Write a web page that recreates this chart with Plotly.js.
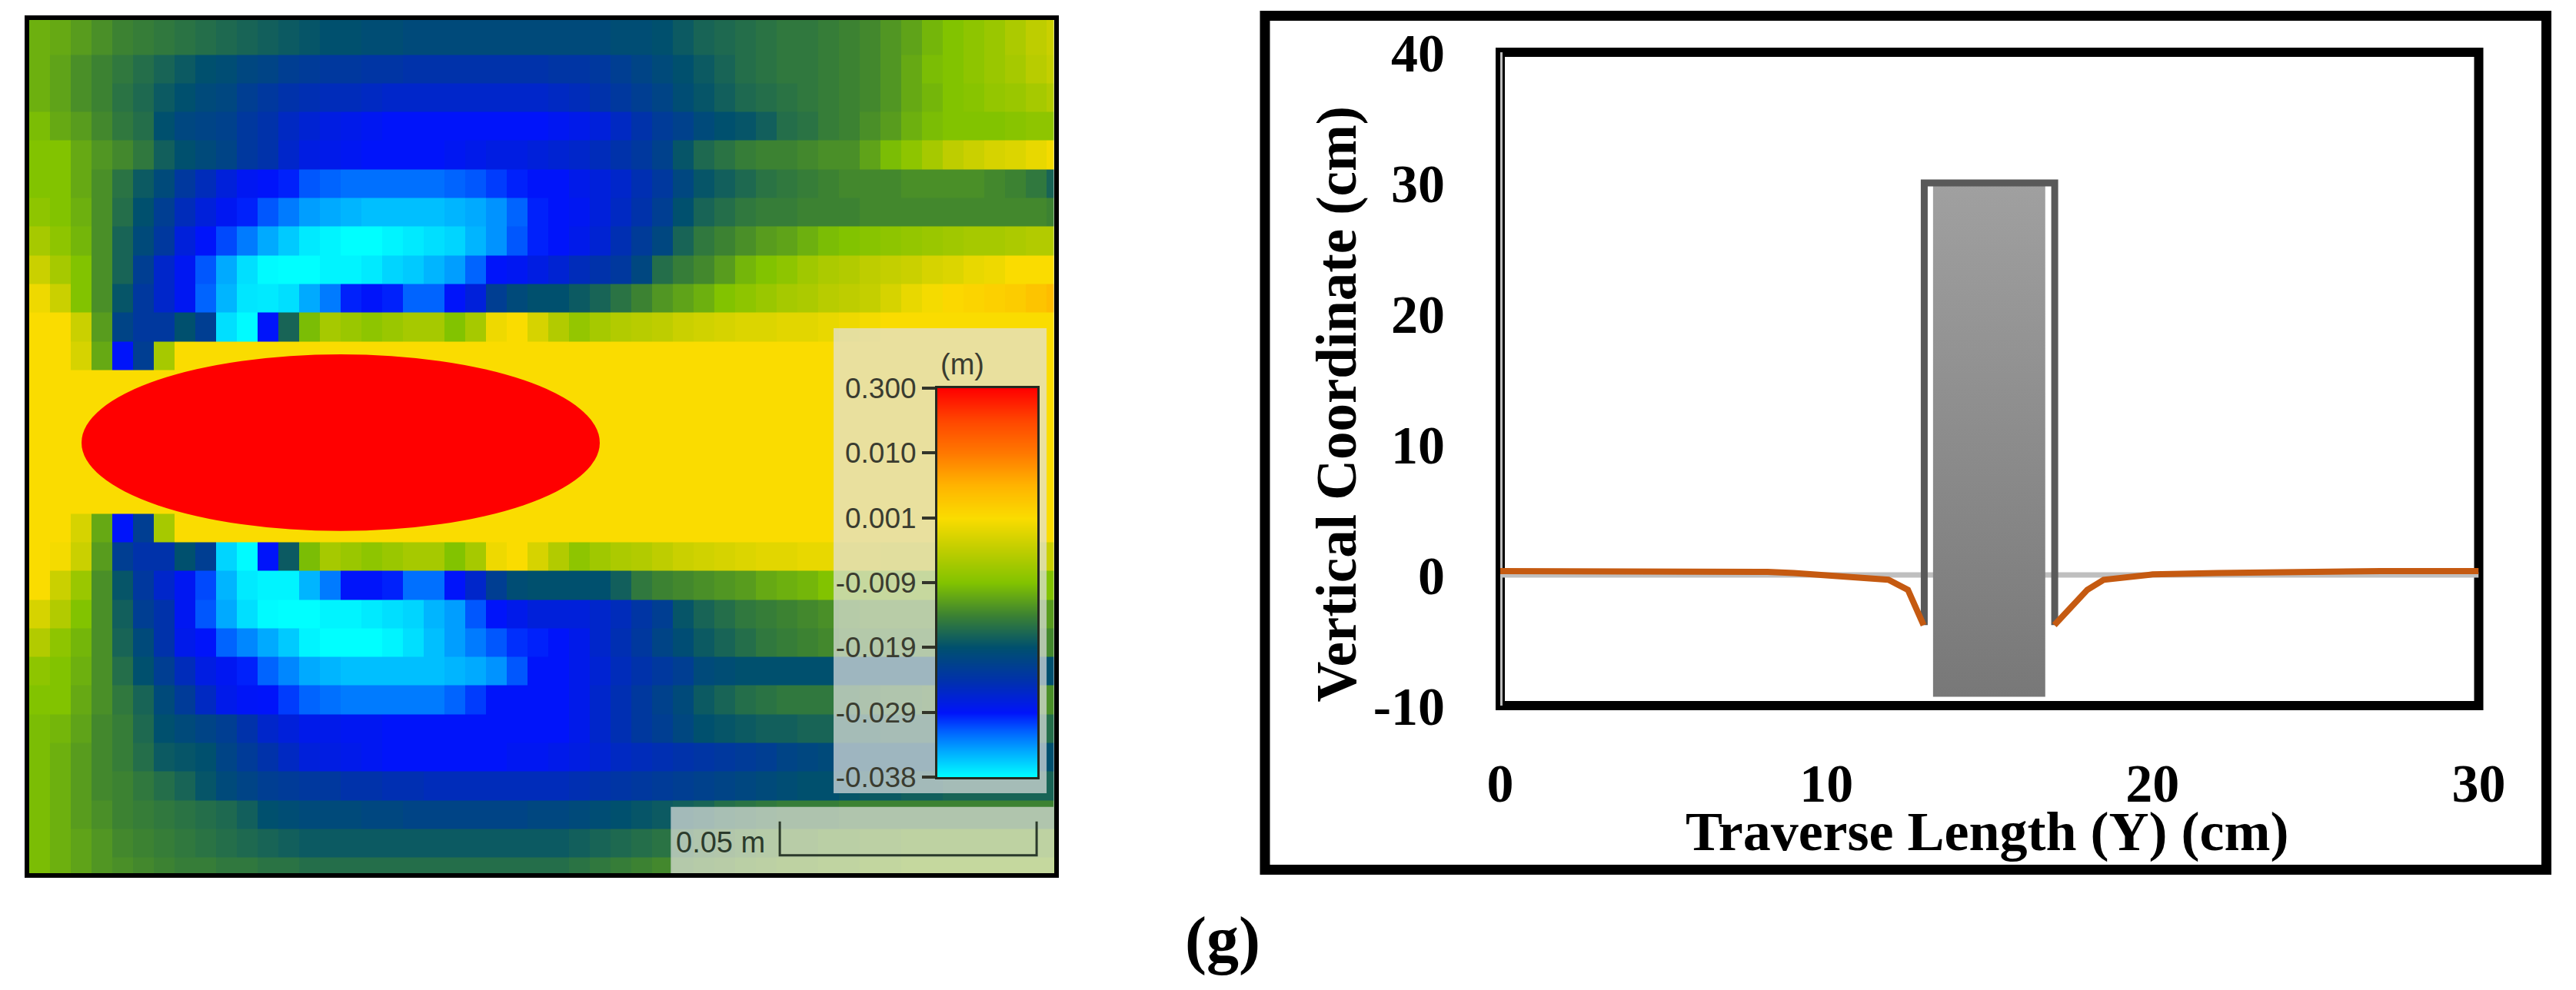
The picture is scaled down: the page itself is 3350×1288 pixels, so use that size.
<!DOCTYPE html>
<html>
<head>
<meta charset="utf-8">
<script src="https://cdn.plot.ly/plotly-3.0.1.min.js"></script>
<style>html,body{margin:0;padding:0;background:#fff}#chart{width:3350px;height:1288px}</style>
</head>
<body>
<div id="chart"></div>
<script>
// ---------- Left map: surface level per cell, in legend steps
// (0 = -0.038 m, 1 = -0.029, 2 = -0.019, 3 = -0.009, 4 = 0.001, 5 = 0.010, 6 = 0.300)
const surfaceRows = [
[2.85,2.8,2.7,2.6,2.5,2.45,2.4,2.35,2.3,2.25,2.2,2.15,2.1,2.05,2.0,2.0,1.95,1.95,1.9,1.9,1.9,1.9,1.9,1.9,1.9,1.9,1.9,1.9,1.95,1.95,2.0,2.1,2.2,2.25,2.3,2.35,2.4,2.4,2.45,2.5,2.55,2.65,2.75,2.9,3.0,3.1,3.2,3.35,3.5,3.6],
[2.85,2.75,2.6,2.5,2.4,2.3,2.2,2.1,2.0,1.95,1.85,1.8,1.7,1.65,1.6,1.6,1.55,1.55,1.5,1.5,1.5,1.5,1.5,1.5,1.5,1.55,1.55,1.6,1.7,1.8,1.9,2.0,2.1,2.2,2.3,2.35,2.4,2.4,2.45,2.5,2.55,2.65,2.8,2.95,3.0,3.1,3.2,3.3,3.45,3.55],
[2.85,2.75,2.6,2.5,2.35,2.25,2.1,2.0,1.9,1.85,1.7,1.6,1.5,1.45,1.4,1.4,1.35,1.3,1.3,1.3,1.3,1.3,1.3,1.3,1.3,1.35,1.4,1.5,1.6,1.7,1.8,1.95,2.05,2.15,2.25,2.3,2.35,2.4,2.45,2.5,2.55,2.65,2.8,2.9,3.0,3.05,3.15,3.2,3.3,3.4],
[2.95,2.8,2.7,2.55,2.4,2.3,2.0,1.85,1.8,1.75,1.6,1.5,1.35,1.25,1.15,1.1,1.05,1.0,1.0,1.0,1.0,1.0,1.0,1.0,1.0,1.05,1.1,1.2,1.35,1.5,1.65,1.75,1.9,2.0,2.05,2.15,2.3,2.35,2.45,2.5,2.6,2.7,2.85,2.95,3.0,3.0,3.0,3.05,3.1,3.1],
[3.0,3.0,2.8,2.65,2.55,2.4,2.15,2.0,1.9,1.8,1.6,1.5,1.3,1.15,1.1,1.05,1.0,1.0,1.0,1.0,1.05,1.1,1.15,1.15,1.2,1.25,1.3,1.4,1.5,1.6,1.75,2.05,2.25,2.35,2.45,2.5,2.5,2.55,2.6,2.6,2.75,2.95,3.1,3.3,3.5,3.6,3.7,3.75,3.85,3.95],
[3.0,3.0,2.8,2.6,2.35,2.1,1.9,1.6,1.4,1.2,1.05,1.0,0.95,0.75,0.7,0.65,0.65,0.65,0.65,0.65,0.7,0.75,0.85,0.95,1.0,1.0,1.1,1.2,1.3,1.45,1.6,1.85,2.05,2.15,2.25,2.35,2.4,2.45,2.5,2.55,2.55,2.55,2.6,2.6,2.6,2.6,2.55,2.5,2.4,2.2],
[3.1,3.0,2.85,2.6,2.3,2.0,1.7,1.4,1.2,1.05,0.95,0.75,0.6,0.45,0.4,0.35,0.3,0.3,0.3,0.3,0.35,0.4,0.5,0.7,0.95,1.0,1.05,1.2,1.35,1.5,1.7,2.0,2.2,2.3,2.4,2.45,2.45,2.5,2.5,2.5,2.55,2.55,2.55,2.55,2.55,2.55,2.55,2.55,2.55,2.5],
[3.3,3.1,2.9,2.6,2.2,1.9,1.6,1.2,1.0,0.8,0.6,0.4,0.25,0.1,0.05,0,0,0.05,0.1,0.15,0.2,0.35,0.5,0.75,0.95,1.0,1.1,1.25,1.45,1.65,1.85,2.2,2.4,2.5,2.6,2.7,2.75,2.85,2.95,3.0,3.05,3.1,3.15,3.2,3.25,3.3,3.3,3.35,3.4,3.4],
[3.6,3.3,3.0,2.6,2.2,1.7,1.3,1.05,0.75,0.4,0.15,0.02,0,0,0.05,0.05,0.1,0.2,0.25,0.35,0.45,0.7,1.0,1.05,1.15,1.25,1.4,1.5,1.6,1.85,2.3,2.45,2.55,2.7,2.9,3.0,3.1,3.25,3.35,3.4,3.5,3.55,3.6,3.7,3.75,3.85,3.9,4.0,4.0,4.0],
[3.9,3.6,3.0,2.6,2.05,1.6,1.3,1.05,0.7,0.35,0.12,0.1,0.15,0.4,0.6,0.95,1.0,0.95,0.7,0.7,1.0,1.2,1.7,1.9,2.0,2.0,2.1,2.2,2.35,2.5,2.65,2.75,2.85,3.0,3.1,3.2,3.3,3.35,3.45,3.5,3.55,3.7,3.85,3.95,4.05,4.1,4.15,4.2,4.3,4.4],
[4.0,4.0,3.6,2.7,1.8,1.6,1.6,2.0,1.7,0.15,0.02,1.0,2.2,2.95,3.3,3.2,3.1,3.2,3.3,3.3,3.0,3.3,3.9,4.0,3.7,3.4,3.15,3.3,3.4,3.45,3.5,3.6,3.65,3.7,3.75,3.75,3.8,3.8,3.85,3.9,3.95,4.0,4.0,4.0,4.0,4.0,4.0,4.0,4.0,4.0],
[4,4,3.7,2.8,1.0,1.7,3.3,4,4,4,4,4,4,4,4,4,4,4,4,4,4,4,4,4,4,4,4,4,4,4,4,4,4,4,4,4,4,4,4,4,4,4,4,4,4,4,4,4,4,4],
[4,4,4,4,4,4,4,4,4,4,4,4,4,4,4,4,4,4,4,4,4,4,4,4,4,4,4,4,4,4,4,4,4,4,4,4,4,4,4,4,4,4,4,4,4,4,4,4,4,4],
[4,4,4,4,4,4,4,4,4,4,4,4,4,4,4,4,4,4,4,4,4,4,4,4,4,4,4,4,4,4,4,4,4,4,4,4,4,4,4,4,4,4,4,4,4,4,4,4,4,4],
[4,4,4,4,4,4,4,4,4,4,4,4,4,4,4,4,4,4,4,4,4,4,4,4,4,4,4,4,4,4,4,4,4,4,4,4,4,4,4,4,4,4,4,4,4,4,4,4,4,4],
[4,4,4,4,4,4,4,4,4,4,4,4,4,4,4,4,4,4,4,4,4,4,4,4,4,4,4,4,4,4,4,4,4,4,4,4,4,4,4,4,4,4,4,4,4,4,4,4,4,4],
[4,4,4,4,4,4,4,4,4,4,4,4,4,4,4,4,4,4,4,4,4,4,4,4,4,4,4,4,4,4,4,4,4,4,4,4,4,4,4,4,4,4,4,4,4,4,4,4,4,4],
[4,4,3.7,2.8,1.0,1.7,3.3,4,4,4,4,4,4,4,4,4,4,4,4,4,4,4,4,4,4,4,4,4,4,4,4,4,4,4,4,4,4,4,4,4,4,4,4,4,4,4,4,4,4,4],
[4.0,3.95,3.6,2.7,1.7,1.5,1.5,2.0,1.7,0.2,0.02,1.0,2.1,2.95,3.3,3.2,3.1,3.2,3.3,3.3,3.0,3.3,3.9,4.0,3.7,3.4,3.1,3.25,3.35,3.4,3.5,3.6,3.65,3.7,3.75,3.8,3.8,3.85,3.85,3.85,3.85,3.8,3.8,3.8,3.8,3.75,3.7,3.7,3.65,3.6],
[4.0,3.6,3.2,2.6,2.05,1.6,1.3,1.05,0.8,0.35,0.1,0.05,0.05,0.35,0.6,1.0,1.0,0.95,0.65,0.65,1.0,1.3,1.7,1.95,2.0,2.0,2.0,2.0,2.15,2.4,2.5,2.55,2.6,2.65,2.7,2.8,2.85,2.9,3.0,3.0,3.05,3.05,3.05,3.05,3.05,3.05,3.05,3.0,3.0,3.0],
[3.7,3.4,3.0,2.6,2.15,1.7,1.5,1.05,0.75,0.4,0.15,0.02,0,0,0.05,0.05,0.1,0.15,0.2,0.35,0.45,0.75,1.0,1.1,1.2,1.2,1.2,1.3,1.4,1.55,1.7,2.05,2.2,2.3,2.4,2.45,2.5,2.55,2.6,2.65,2.7,2.7,2.7,2.7,2.7,2.7,2.7,2.7,2.7,2.7],
[3.4,3.1,2.9,2.6,2.2,1.9,1.5,1.1,1.0,0.7,0.55,0.4,0.25,0.05,0,0,0,0.05,0.15,0.3,0.45,0.6,0.75,0.9,0.95,1.0,1.1,1.3,1.45,1.6,1.8,1.95,2.1,2.2,2.3,2.4,2.45,2.5,2.55,2.6,2.6,2.6,2.6,2.6,2.6,2.6,2.6,2.6,2.55,2.55],
[3.1,3.0,2.85,2.6,2.3,2.0,1.7,1.4,1.15,1.05,0.95,0.7,0.55,0.4,0.35,0.3,0.3,0.3,0.3,0.3,0.35,0.4,0.5,0.75,1.0,1.0,1.1,1.25,1.4,1.5,1.6,1.7,1.9,1.95,2.0,2.0,2.0,2.0,2.0,2.0,2.0,2.0,2.0,2.0,2.0,2.0,2.0,2.0,2.0,2.0],
[3.0,3.0,2.8,2.6,2.4,2.2,1.9,1.65,1.35,1.1,1.02,1.0,0.85,0.7,0.65,0.6,0.6,0.6,0.6,0.6,0.7,0.85,1.0,1.0,1.0,1.0,1.1,1.3,1.45,1.6,1.75,1.9,2.1,2.2,2.3,2.35,2.4,2.4,2.4,2.4,2.45,2.5,2.5,2.55,2.55,2.55,2.55,2.6,2.6,2.6],
[2.95,2.9,2.75,2.55,2.45,2.25,2.0,1.9,1.8,1.7,1.5,1.3,1.2,1.1,1.1,1.05,1.05,1.0,1.0,1.0,1.0,1.0,1.0,1.0,1.0,1.0,1.1,1.3,1.45,1.6,1.7,1.85,2.0,2.05,2.1,2.15,2.15,2.2,2.2,2.2,2.2,2.25,2.25,2.25,2.25,2.3,2.3,2.3,2.3,2.3],
[2.95,2.85,2.7,2.55,2.45,2.3,2.1,2.05,2.0,1.8,1.65,1.5,1.35,1.2,1.15,1.1,1.05,1.0,1.0,1.0,1.0,1.0,1.0,1.05,1.05,1.1,1.15,1.25,1.35,1.4,1.45,1.5,1.55,1.6,1.65,1.7,1.8,1.85,1.9,1.95,2.0,2.0,2.0,2.0,2.0,2.0,2.0,2.0,2.0,2.0],
[2.95,2.85,2.7,2.55,2.5,2.4,2.3,2.2,2.05,1.9,1.8,1.7,1.65,1.6,1.6,1.5,1.5,1.45,1.45,1.4,1.4,1.4,1.4,1.4,1.4,1.4,1.45,1.5,1.55,1.6,1.65,1.7,1.75,1.8,1.85,1.9,1.95,2.0,2.0,2.05,2.1,2.1,2.15,2.15,2.2,2.2,2.2,2.2,2.2,2.2],
[2.95,2.85,2.7,2.6,2.5,2.45,2.4,2.35,2.3,2.25,2.15,2.0,1.95,1.9,1.9,1.9,1.85,1.85,1.8,1.8,1.8,1.8,1.8,1.8,1.85,1.85,1.9,1.95,2.0,2.05,2.1,2.15,2.2,2.3,2.35,2.4,2.45,2.45,2.45,2.5,2.5,2.5,2.5,2.5,2.5,2.5,2.5,2.5,2.5,2.5],
[2.95,2.85,2.75,2.65,2.55,2.5,2.45,2.4,2.35,2.3,2.25,2.2,2.15,2.1,2.1,2.1,2.1,2.1,2.1,2.1,2.1,2.1,2.1,2.1,2.1,2.1,2.15,2.2,2.25,2.3,2.35,2.4,2.5,2.55,2.6,2.65,2.7,2.7,2.75,2.75,2.8,2.8,2.85,2.85,2.85,2.85,2.85,2.85,2.85,2.85],
[2.95,2.85,2.75,2.65,2.6,2.55,2.5,2.45,2.45,2.4,2.4,2.35,2.35,2.3,2.3,2.3,2.3,2.3,2.3,2.3,2.3,2.3,2.3,2.3,2.3,2.3,2.35,2.4,2.45,2.5,2.55,2.6,2.65,2.7,2.75,2.8,2.85,2.85,2.9,2.9,2.95,2.95,3.0,3.0,3.0,3.0,3.0,3.0,3.0,3.0]
];
const rowEdges = [-0.3,1,2,3,4,5,6,7,8,9,10,11,12,13,14,15,16,17,18,19,20,21,22,23,24,25,26,27,28,29,30];
const legendLevels = [0,1,2,3,4,5,6];
const legendLabels = ['-0.038','-0.029','-0.019','-0.009','0.001','0.010','0.300'];
const moundCols = [2.52,27.48];
const moundRows = [11.45,17.61];
const panelUpperCols = [38.74,49,49,38.74,38.74];
const panelUpperRows = [10.54,10.54,26.75,26.75,10.54];
const panelLowerCols = [30.9,49.35,49.35,30.9,30.9];
const panelLowerRows = [27.23,27.23,29.54,29.54,27.23];
const scaleBarCols = [36.15,36.15,48.52,48.52];
const scaleBarRows = [27.74,28.92,28.92,27.74];

// ---------- Right chart
const profileX = [0,2,4,5.5,7,8.2,9,10.2,11.9,12.5,12.98];
const profileY = [0.3,0.3,0.3,0.3,0.27,0.24,0.15,-0.02,-0.37,-1.14,-3.84];
const profileRightX = [16.99,18,18.5,20,22,24,25,27,30];
const profileRightY = [-3.84,-1.14,-0.37,0.04,0.15,0.25,0.3,0.3,0.3];
const boxX = [13,13,17,17];
const boxY = [-3.84,30,30,-3.84];
const pierX = [13.27,16.71,16.71,13.27,13.27];
const pierY = [30,30,-9.33,-9.33,30];
const xTicks = [0,10,20,30];
const yTicks = [-10,0,10,20,30,40];
const yTickLabels = ['-10','0','10','20','30','40'];

const W = 3350, H = 1288;
const px = v => v / W, py = v => 1 - v / H;
const serif = '"Liberation Serif", serif';
const narrow = '"Liberation Sans Narrow", "Liberation Sans", sans-serif';

const colors = [
 [0,'rgb(0,255,255)'],[0.4,'rgb(0,170,255)'],[0.7,'rgb(0,100,255)'],[1,'rgb(0,20,250)'],
 [1.5,'rgb(0,50,170)'],[2,'rgb(0,80,110)'],[2.5,'rgb(60,130,50)'],[3,'rgb(130,195,0)'],
 [3.5,'rgb(190,205,0)'],[4,'rgb(250,220,0)'],[4.5,'rgb(255,180,0)'],[5,'rgb(255,120,0)'],
 [5.5,'rgb(255,70,0)'],[6,'rgb(255,0,0)']
].map(s => [s[0] / 6, s[1]]);

const panelFill = 'rgba(225,225,225,0.7)';
const traces = [
 {type:'heatmap', xaxis:'x', yaxis:'y', z:surfaceRows, x0:0.5, dx:1, y:rowEdges,
  colorscale:colors, zmin:0, zmax:6, showscale:false, hoverinfo:'skip'},
 {type:'scatter', xaxis:'x', yaxis:'y', mode:'none', x:panelUpperCols, y:panelUpperRows,
  fill:'toself', fillcolor:panelFill, hoverinfo:'skip'},
 {type:'scatter', xaxis:'x', yaxis:'y', mode:'none', x:panelLowerCols, y:panelLowerRows,
  fill:'toself', fillcolor:panelFill, hoverinfo:'skip'},
 {type:'scatter', xaxis:'x', yaxis:'y', mode:'lines', x:scaleBarCols, y:scaleBarRows,
  line:{color:'#2b3a2b', width:3}, hoverinfo:'skip'},

 {type:'heatmap', xaxis:'x3', yaxis:'y3', x:[0,1], y:legendLevels,
  z:legendLevels.map(v => [v, v]), zsmooth:'best',
  colorscale:colors, zmin:0, zmax:6, showscale:false, hoverinfo:'skip'},

 {type:'scatter', xaxis:'x2', yaxis:'y2', mode:'lines', x:[0,30], y:[0,0], cliponaxis:false,
  line:{color:'#bfbfbf', width:7}, hoverinfo:'skip'},
 {type:'scatter', xaxis:'x2', yaxis:'y2', mode:'lines', x:[0,0], y:[-10,40], cliponaxis:false,
  line:{color:'#bfbfbf', width:6}, hoverinfo:'skip'},
 {type:'scatter', xaxis:'x2', yaxis:'y2', mode:'none', x:pierX, y:pierY, fill:'toself',
  fillgradient:{type:'vertical', colorscale:[[0,'rgb(120,120,120)'],[1,'rgb(160,160,160)']]},
  hoverinfo:'skip'},
 {type:'scatter', xaxis:'x2', yaxis:'y2', mode:'lines', x:boxX, y:boxY,
  line:{color:'#595959', width:9}, hoverinfo:'skip'},
 {type:'scatter', xaxis:'x2', yaxis:'y2', mode:'lines', x:profileX, y:profileY, cliponaxis:false,
  line:{color:'#C55A11', width:8}, hoverinfo:'skip'},
 {type:'scatter', xaxis:'x2', yaxis:'y2', mode:'lines', x:profileRightX, y:profileRightY, cliponaxis:false,
  line:{color:'#C55A11', width:8}, hoverinfo:'skip'}
];

const layout = {
 width:W, height:H, margin:{l:0,r:0,t:0,b:0}, showlegend:false,
 paper_bgcolor:'#fff', plot_bgcolor:'#fff',
 xaxis:{domain:[px(38),px(1370.5)], range:[0,49.35], showticklabels:false, ticks:'', showgrid:false,
        zeroline:false, showline:true, mirror:true, linewidth:6, linecolor:'#000', anchor:'y'},
 yaxis:{domain:[py(1136),py(26)], range:[29.54,-0.206], showticklabels:false, ticks:'', showgrid:false,
        zeroline:false, showline:true, mirror:true, linewidth:6, linecolor:'#000', anchor:'x'},
 xaxis3:{domain:[px(1219),px(1349)], range:[0,1], showticklabels:false, ticks:'', showgrid:false,
        zeroline:false, showline:true, mirror:true, linewidth:3, linecolor:'#262a20', anchor:'y3'},
 yaxis3:{domain:[py(1011),py(505)], range:[0,6], tickmode:'array', tickvals:legendLevels, ticktext:legendLabels,
        ticks:'outside', ticklen:17, tickwidth:4, tickcolor:'#33352a', showgrid:false, zeroline:false,
        showline:true, mirror:true, linewidth:3, linecolor:'#262a20', anchor:'x3',
        tickfont:{family:narrow, size:37, color:'#3a3c30'}},
 xaxis2:{domain:[px(1951),px(3223.5)], range:[0,30], tickmode:'array', tickvals:xTicks,
        ticks:'outside', ticklen:40, tickcolor:'rgba(0,0,0,0)', showgrid:false, zeroline:false, showline:false,
        anchor:'y2', tickfont:{family:serif, size:70, color:'#000', weight:'bold'}},
 yaxis2:{domain:[py(918),py(68)], range:[-10,40], tickmode:'array', tickvals:yTicks, ticktext:yTickLabels,
        ticks:'outside', ticklen:57, tickcolor:'rgba(0,0,0,0)', showgrid:false, zeroline:false, showline:false,
        anchor:'x2', tickfont:{family:serif, size:70, color:'#000', weight:'bold'}},
 shapes:[
  {type:'circle', xref:'x', yref:'y', x0:moundCols[0], x1:moundCols[1], y0:moundRows[0], y1:moundRows[1],
   fillcolor:'#ff0000', line:{width:0}, layer:'above'},
  {type:'rect', xref:'paper', yref:'paper', x0:px(1645), x1:px(3311.5), y0:py(20.5), y1:py(1131.5),
   line:{color:'#000', width:13}, fillcolor:'rgba(0,0,0,0)', layer:'below'},
  {type:'rect', xref:'paper', yref:'paper', x0:px(1951), x1:px(3223.5), y0:py(68), y1:py(918),
   line:{color:'#000', width:12}, fillcolor:'rgba(0,0,0,0)', layer:'below'}
 ],
 annotations:[
  {text:'(m)', xref:'paper', yref:'paper', x:px(1251), y:py(474), showarrow:false, xanchor:'center', yanchor:'middle',
   font:{family:narrow, size:38, color:'#3a3c30'}},
  {text:'0.05 m', xref:'paper', yref:'paper', x:px(937), y:py(1096), showarrow:false, xanchor:'center', yanchor:'middle',
   font:{family:narrow, size:38, color:'#2b3a2b'}},
  {text:'<b>Traverse Length (Y) (cm)</b>', xref:'paper', yref:'paper', x:px(2584), y:py(1082), showarrow:false,
   xanchor:'center', yanchor:'middle', font:{family:serif, size:72, color:'#000'}},
  {text:'<b>Vertical Coordinate (cm)</b>', xref:'paper', yref:'paper', x:px(1739), y:py(525.6), textangle:-90,
   showarrow:false, xanchor:'center', yanchor:'middle', font:{family:serif, size:73, color:'#000'}},
  {text:'<b>(g)</b>', xref:'paper', yref:'paper', x:px(1590), y:py(1223), showarrow:false, xanchor:'center', yanchor:'middle',
   font:{family:serif, size:84, color:'#000'}}
 ]
};

Plotly.newPlot('chart', traces, layout, {displayModeBar:false, staticPlot:true});
</script>
</body>
</html>
